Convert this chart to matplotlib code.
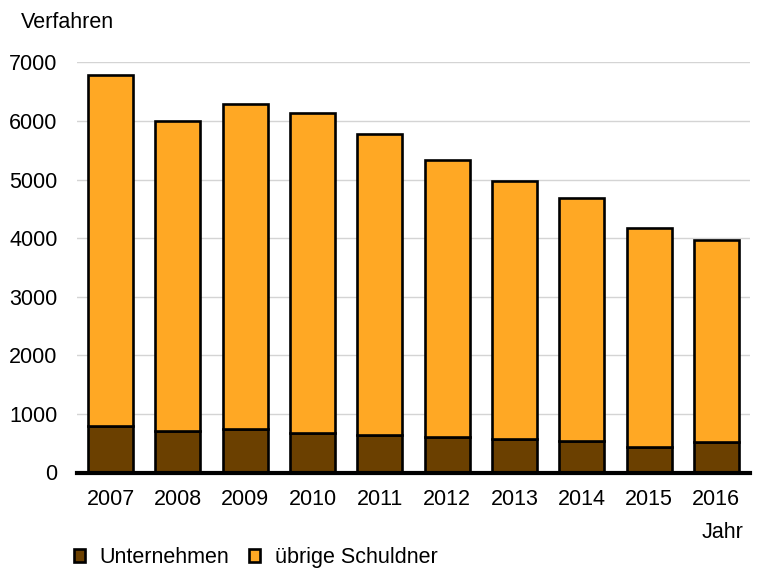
import matplotlib
matplotlib.use("Agg")
import matplotlib.pyplot as plt
import numpy as np

plt.rcParams['font.family'] = ['Liberation Sans', 'DejaVu Sans']

years = ['2007', '2008', '2009', '2010', '2011', '2012', '2013', '2014', '2015', '2016']
totals = [6790, 5990, 6290, 6140, 5780, 5330, 4980, 4690, 4170, 3970]
unternehmen = [800, 710, 750, 670, 636, 602, 580, 540, 430, 516]
uebrige = [t - u for t, u in zip(totals, unternehmen)]

c_unt = '#6b4000'
c_ueb = '#ffa824'
fs = 15.5

fig = plt.figure(figsize=(7.6, 5.7), dpi=100)
ax = fig.add_axes([77/760, 1-472.5/570, (750-77)/760, (472.5-62.3)/570])

x = np.arange(len(years))
b1 = ax.bar(x, unternehmen, width=0.67, color=c_unt, edgecolor='black', linewidth=1.9,
            label='Unternehmen', zorder=3)
b2 = ax.bar(x, uebrige, bottom=unternehmen, width=0.67, color=c_ueb, edgecolor='black',
            linewidth=1.9, label='übrige Schuldner', zorder=3)

ax.set_xlim(-0.5, len(years) - 0.5)
ax.set_ylim(0, 7000)
ax.set_yticks(range(0, 7001, 1000))
ax.set_xticks(x)
ax.set_xticklabels(years)
ax.tick_params(axis='both', length=0, labelsize=fs, colors='black')
ax.tick_params(axis='y', pad=14)
ax.tick_params(axis='x', pad=12)

ax.yaxis.grid(True, color='#d4d4d4', linewidth=1.0, zorder=0)
ax.set_axisbelow(True)
for s in ['top', 'right', 'left']:
    ax.spines[s].set_visible(False)
ax.spines['bottom'].set_linewidth(3.0)
ax.spines['bottom'].set_color('black')
ax.spines['bottom'].set_zorder(4)

fig.text(21/760, 1-23/570, 'Verfahren', fontsize=fs, ha='left', va='center')
fig.text(743/760, 1-533/570, 'Jahr', fontsize=fs, ha='right', va='center')

fig.legend(handles=[b1, b2], labels=['Unternehmen', 'übrige Schuldner'],
           loc='center left', bbox_to_anchor=(74/760, 1-557.7/570), ncol=2,
           frameon=False, fontsize=fs, handlelength=0.5, handleheight=0.5,
           handletextpad=0.7, columnspacing=0.9, borderpad=0, borderaxespad=0)

fig.savefig('out.png', dpi=100)
